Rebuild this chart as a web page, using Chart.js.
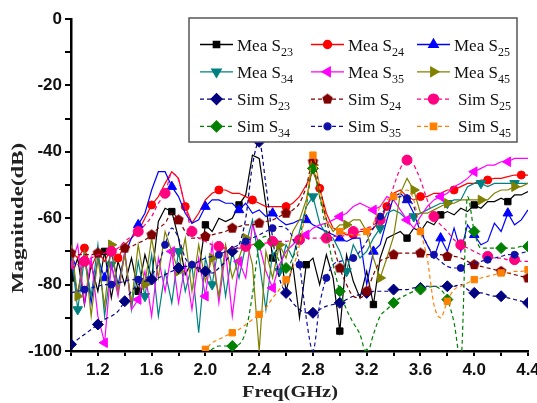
<!DOCTYPE html>
<html>
<head>
<meta charset="utf-8">
<script src="https://cdn.jsdelivr.net/npm/chart.js@4.4.1/dist/chart.umd.min.js"></script>
<style>
  html, body { margin: 0; padding: 0; background: #fff; }
  #wrap { width: 537px; height: 403px; }
</style>
</head>
<body>
<div id="wrap"><canvas id="sChart" width="537" height="403"></canvas></div>
<script>
// --- data (dB), one value per frequency step ---
const freq = [
  1.00,1.05,1.10,1.15,1.20,1.25,1.30,1.35,1.40,1.45,
  1.50,1.55,1.60,1.65,1.70,1.75,1.80,1.85,1.90,1.95,
  2.00,2.05,2.10,2.15,2.20,2.25,2.30,2.35,2.40,2.45,
  2.50,2.55,2.60,2.65,2.70,2.75,2.80,2.85,2.90,2.95,
  3.00,3.05,3.10,3.15,3.20,3.25,3.30,3.35,3.40,3.45,
  3.50,3.55,3.60,3.65,3.70,3.75,3.80,3.85,3.90,3.95,
  4.00,4.05,4.10,4.15,4.20,4.25,4.30,4.35,4.40];

// measured
const meaS23 = [
  -78,-72,-86,-74,-82,-70,-84,-73,-80,-72,
  -82,-71,-78,-61,-57,-58,-66,-77,-73,-76,
  -62,-64,-60,-61,-60,-56,-53,-41,-42,-56,
  -72,-68,-82,-74,-90,-74,-72,-80,-71,-78,
  -94,-71,-79,-84,-76,-86,-72,-66,-65,-64,
  -66,-63,-64,-61,-62,-59,-58,-59,-57,-58,
  -56,-57,-55,-55,-54,-55,-53,-53,-52];
const meaS24 = [
  -70,-72,-69,-75,-70,-73,-69,-72,-68,-66,
  -64,-60,-56,-53.5,-49.5,-46,-48,-56.5,-61.5,-58.5,
  -54.5,-52.5,-51.5,-51.5,-52.5,-52.5,-53.5,-54.5,-55.5,-56.5,
  -56.5,-56.5,-56.5,-55.5,-53.5,-50,-46,-51,-58.5,-63,
  -64,-65,-65,-64,-64,-63,-60.5,-56.5,-52.5,-51.5,
  -53.5,-54.5,-53.5,-53.5,-52.5,-52.5,-51.5,-51.5,-50.5,-49.5,
  -49.5,-48.5,-48.5,-48,-48,-47.5,-47,-47,-47];
const meaS25 = [
  -73,-83,-70,-85.5,-72,-78,-70,-80,-71,-66,
  -62,-58.5,-51.5,-46,-46,-50.5,-53.5,-58.5,-61.5,-60.5,
  -56.5,-54.5,-54.5,-55.5,-55.5,-57.5,-55.5,-58.5,-57.5,-59.5,
  -58.5,-60.5,-62,-61.5,-60.5,-60.5,-62,-63,-64,-65,
  -66,-67,-66,-66,-80,-70,-68,-60.5,-53.5,-52.5,
  -54.5,-58.5,-64,-68,-72,-66,-70,-63,-70,-62,
  -65,-68,-67,-61.5,-64,-58.5,-62,-60.5,-57.5];
const meaS34 = [
  -70,-87.5,-72,-83.5,-68,-89.5,-74,-82,-70,-87.5,
  -73,-83.5,-71,-89.5,-76,-85.5,-70,-82,-74,-94.5,
  -72,-80,-68,-83.5,-70,-78,-68,-60.5,-73,-87.5,
  -70,-76,-68,-72,-64,-56.5,-53.5,-61.5,-65,-66,
  -70,-76,-68,-72,-70,-66,-63,-58.5,-57.5,-58.5,
  -60.5,-59.5,-58.5,-57.5,-56.5,-55.5,-55.5,-54.5,-54.5,-50.5,
  -49.5,-49.5,-50.5,-49.5,-49.5,-49.5,-49.5,-49.5,-49.5];
const meaS35 = [
  -74,-68,-85.5,-72,-89.5,-97.5,-74,-83.5,-70,-87.5,
  -84.5,-76,-89.5,-72,-82,-70,-85.5,-74,-87.5,-72,
  -83.5,-68,-85.5,-70,-89.5,-73,-78,-62,-68,-76,
  -81,-74,-70,-68,-66,-65,-63,-62,-61.5,-60.5,
  -59.5,-58.5,-56.5,-55.5,-56.5,-57.5,-56.5,-53.5,-54.5,-57.5,
  -60.5,-63,-59.5,-56.5,-54.5,-53.5,-52.5,-50.5,-49.5,-48,
  -46,-45,-44,-44,-43,-43,-42,-42,-42];
const meaS45 = [
  -68,-83.5,-70,-89.5,-72,-86.5,-68,-82,-71,-85.5,
  -68,-80,-66,-78,-64,-70,-76,-66,-82,-68,
  -79,-72,-83.5,-68,-78,-72,-66,-74,-100,-70,
  -78,-68,-72,-64,-60.5,-54.5,-44,-53.5,-60.5,-64,
  -62,-62,-60.5,-60.5,-64,-72,-78,-72,-65.5,-52.5,
  -48,-51.5,-58.5,-58.5,-57.5,-56.5,-55.5,-55.5,-54.5,-54.5,
  -54.5,-54.5,-54.5,-52.5,-51.5,-51.5,-50.5,-50.5,-49.5];

// simulated
const simS23 = [
  -98,-96.5,-95,-93.5,-92,-90.5,-89.5,-88,-85,-82,
  -80,-79,-78.5,-78,-77,-76,-75,-74.5,-74.5,-75,
  -76,-76.5,-75,-73,-70,-68,-60,-44,-37,-50,
  -66,-78,-82.5,-85.5,-87.5,-88.5,-88.5,-87.5,-86.5,-86,
  -85.5,-84.5,-83.5,-83,-82.5,-82,-82,-82,-81.5,-81.5,
  -81.5,-81,-81,-80.5,-80.5,-80.5,-80.5,-80.5,-80,-81.5,
  -82.5,-82.5,-83,-83.5,-83.5,-84,-84.5,-85,-85.5];
const simS24 = [
  -70.5,-71,-71,-71,-70.5,-70.5,-70,-69.5,-69,-68.5,
  -67.5,-66.5,-65,-63,-61.5,-58.5,-60.5,-64,-66,-66,
  -65.5,-65,-64.5,-64,-63,-62.5,-62,-62,-61.5,-61,
  -60.5,-59.5,-58.5,-57.5,-55.5,-50.5,-43,-50.5,-60.5,-68,
  -75,-80,-83.5,-84,-82,-77,-73,-72,-71,-70.5,
  -70.5,-70.5,-70.5,-71,-71,-71,-71.5,-71.5,-72,-73,
  -74,-74.5,-75,-75.5,-76,-76.5,-77,-77.5,-78];
const simS25 = [
  -75,-74,-73,-72,-71,-70.5,-70,-69,-67,-65.5,
  -64,-62,-59.5,-55.5,-52.5,-46.5,-48.5,-56.5,-64,-66,
  -67,-68,-68.5,-69,-69,-69,-68.5,-68,-67.5,-67.5,
  -67,-67,-67,-66.5,-66.5,-66,-66,-66,-66,-65.5,
  -65.5,-65,-64,-63.5,-63,-62,-60.5,-56.5,-50.5,-45,
  -42.5,-44,-48.5,-54.5,-59.5,-62,-64,-66.5,-68,-69,
  -70,-71,-71.5,-72,-72,-72.5,-72.5,-73,-73];
const simS34 = [
  null,null,null,null,null,null,null,null,null,null,
  null,null,null,null,null,null,null,null,null,null,
  -101,-99.5,-98.5,-98.5,-98.5,-98,-94,-83,-68,-65.5,
  -68,-73,-75,-72,-66,-56.5,-45,-53.5,-64,-74,
  -82,-87.5,-91.5,-95,-101,-95,-89.5,-87.5,-85.5,-84,
  -83,-82,-81.5,-81,-80.5,-81.5,-84.5,-91.5,-103,-53.5,
  -64,-69,-69,-69,-69,-69,-69,-68.5,-68.5];
const simS35 = [
  -82.5,-82,-81.5,-81,-80.5,-80,-80,-79.5,-79,-78.5,
  -78.5,-78,-77,-74,-68,-63,-66,-72,-74,-73,
  -72,-71.5,-71,-70,-69,-68,-67,-66,-65,-64,
  -63,-62.5,-63,-66,-74,-90,-100,-86,-78,-74,
  -73,-72.5,-72,-70,-67,-63,-59.5,-56.5,-54.5,-53.5,
  -54,-56.5,-63,-68,-71,-73,-74.5,-75,-75,-74,
  -73.5,-73,-72.5,-72,-71.5,-71,-71,-70.5,-70];
const simS45 = [
  null,null,null,null,null,null,null,null,null,null,
  null,null,null,null,null,null,null,null,-103,-101,
  -99.5,-97.5,-96.5,-95.5,-94.5,-93.5,-92,-90.5,-89,-87,
  -84,-81.5,-78.5,-75,-68,-56.5,-41,-50.5,-60.5,-63,
  -64,-64.5,-65,-65,-64,-61.5,-56.5,-54.5,-53.5,-52.5,
  -51.5,-54.5,-64,-72,-86,-90,-85,-81.5,-80.5,-79.5,
  -78.5,-78,-77.5,-77,-76.5,-76.5,-76,-76,-75.5];

const seriesNames = ['Mea S23','Mea S24','Mea S25','Mea S34','Mea S35','Mea S45',
                     'Sim S23','Sim S24','Sim S25','Sim S34','Sim S35','Sim S45'];
const seriesValues = [meaS23, meaS24, meaS25, meaS34, meaS35, meaS45,
                      simS23, simS24, simS25, simS34, simS35, simS45];

const xTickLabels = ['1.2','1.6','2.0','2.4','2.8','3.2','3.6','4.0','4.4'];
const yTickLabels = [0, -20, -40, -60, -80, -100];

seriesValues.forEach((v, i) => {
  if (v.length !== freq.length) console.error(seriesNames[i] + ' has ' + v.length + ' values');
});

// little pentagon marker for Sim S24
function pentagon(color, r) {
  const c = document.createElement('canvas');
  c.width = c.height = 2 * r + 2;
  const g = c.getContext('2d');
  g.fillStyle = color;
  g.beginPath();
  for (let k = 0; k < 5; k++) {
    const a = -Math.PI / 2 + k * 2 * Math.PI / 5;
    g.lineTo(r + 1 + r * Math.cos(a), r + 1 + r * Math.sin(a));
  }
  g.closePath();
  g.fill();
  return c;
}

// look of each curve: colour, marker, marker spacing
const looks = [
  { color: '#000000', shape: 'rect',     rot: 0,   r: 4.5, every: 5, phase: 0 },
  { color: '#ff0000', shape: 'circle',   rot: 0,   r: 4,   every: 5, phase: 2 },
  { color: '#0000ff', shape: 'triangle', rot: 0,   r: 5.5, every: 5, phase: 0 },
  { color: '#008080', shape: 'triangle', rot: 180, r: 5.5, every: 5, phase: 1 },
  { color: '#ff00ff', shape: 'triangle', rot: 270, r: 5.5, every: 5, phase: 0 },
  { color: '#808000', shape: 'triangle', rot: 90,  r: 5.5, every: 5, phase: 1 },
  { color: '#000080', shape: 'rectRot',  rot: 0,   r: 5.5, every: 4, phase: 0, dash: true },
  { color: '#800000', shape: pentagon('#800000', 5.5), rot: 0, r: 5.5, every: 4, phase: 0, dash: true },
  { color: '#ff0080', shape: 'circle',   rot: 0,   r: 5,   every: 4, phase: 2, dash: true },
  { color: '#008000', shape: 'rectRot',  rot: 0,   r: 5.5, every: 4, phase: 0, dash: true },
  { color: '#1010a8', shape: 'circle',   rot: 0,   r: 3.5, every: 4, phase: 2, dash: true },
  { color: '#ff8000', shape: 'rect',     rot: 0,   r: 4.5, every: 4, phase: 0, dash: true }
];

const datasets = seriesNames.map((name, i) => {
  const lk = looks[i];
  return {
    label: name,
    data: freq.map((f, k) => ({ x: f, y: seriesValues[i][k] })),
    borderColor: lk.color,
    backgroundColor: lk.color,
    pointBackgroundColor: lk.color,
    pointBorderColor: lk.color,
    borderWidth: 1.2,
    borderDash: lk.dash ? [4, 3] : [],
    pointStyle: lk.shape,
    pointRotation: lk.rot,
    pointBorderWidth: 1,
    pointRadius: c => (c.dataIndex % lk.every === lk.phase ? lk.r : 0),
    tension: 0,
    cubicInterpolationMode: lk.dash ? 'monotone' : 'default',
    spanGaps: false,
    order: 11 - i
  };
});

// legend box with subscripts, drawn inside the plot
const legendBox = {
  id: 'legendBox',
  afterDatasetsDraw(chart) {
    const ctx = chart.ctx;
    ctx.save();
    ctx.fillStyle = '#fff';
    ctx.fillRect(189, 18, 328, 124);
    ctx.strokeStyle = '#555';
    ctx.lineWidth = 1.5;
    ctx.strokeRect(189, 18, 328, 124);
    const colX = [200, 311, 417];
    chart.data.datasets.forEach((ds, i) => {
      const lk = looks[i];
      const row = Math.floor(i / 3), col = i % 3;
      const cy = 44.5 + row * 27.3;
      const x0 = colX[col], x1 = x0 + 33;
      ctx.strokeStyle = lk.color;
      ctx.lineWidth = 1.3;
      ctx.setLineDash(lk.dash ? [4, 3] : []);
      ctx.beginPath();
      ctx.moveTo(x0, cy);
      ctx.lineTo(x1, cy);
      ctx.stroke();
      ctx.setLineDash([]);
      ctx.fillStyle = lk.color;
      Chart.helpers.drawPoint(ctx, { pointStyle: lk.shape, radius: lk.r, rotation: lk.rot, borderWidth: 1 },
        (x0 + x1) / 2, cy);
      const m = ds.label.match(/^(.*S)(\d+)$/);
      const tx = x1 + 4 + (ds.label.startsWith('Sim') && col === 2 ? 4 : 0);
      ctx.fillStyle = '#111';
      ctx.textAlign = 'left';
      ctx.textBaseline = 'alphabetic';
      ctx.font = '17px "Liberation Serif"';
      ctx.fillText(m[1], tx, cy + 6);
      const w = ctx.measureText(m[1]).width;
      ctx.font = '12px "Liberation Serif"';
      ctx.fillText(m[2], tx + w, cy + 11);
    });
    ctx.restore();
  }
};

// axis titles, a bit stretched like the original figure
const axisTitles = {
  id: 'axisTitles',
  afterDraw(chart) {
    const ctx = chart.ctx;
    ctx.save();
    ctx.fillStyle = '#222';
    ctx.font = 'bold 17px "Liberation Serif"';
    ctx.textAlign = 'center';
    ctx.textBaseline = 'middle';
    ctx.save();
    ctx.translate(290, 393);
    ctx.scale(1.2, 1);
    ctx.fillText('Freq(GHz)', 0, 0);
    ctx.restore();
    ctx.save();
    ctx.translate(19, 218);
    ctx.rotate(-Math.PI / 2);
    ctx.scale(1.35, 1);
    ctx.fillText('Magnitude(dB)', 0, 0);
    ctx.restore();
    ctx.restore();
  }
};

const tickFont = { family: '"Liberation Sans", Arial', size: 17, weight: 'bold' };

new Chart(document.getElementById('sChart').getContext('2d'), {
  type: 'line',
  data: { datasets: datasets },
  options: {
    responsive: false,
    animation: false,
    events: [],
    devicePixelRatio: 1,
    layout: { padding: { top: 19, right: 9, left: 0, bottom: 0 } },
    plugins: { legend: { display: false }, tooltip: { enabled: false } },
    scales: {
      x: {
        type: 'linear',
        min: 1.0,
        max: 4.4,
        grid: { display: true, drawOnChartArea: false, drawTicks: true, tickLength: 5, color: '#000', lineWidth: 2 },
        border: { display: true, color: '#000', width: 2.5 },
        ticks: {
          stepSize: 0.2,
          autoSkip: false,
          maxRotation: 0,
          padding: 4,
          color: '#111',
          font: tickFont,
          callback: v => (xTickLabels.includes(Number(v).toFixed(1)) ? Number(v).toFixed(1) : '')
        },
        afterFit: s => { s.height = 52; s.paddingLeft = 0; s.paddingRight = 0; }
      },
      y: {
        min: -100,
        max: 0,
        grid: { display: true, drawOnChartArea: false, drawTicks: true, tickLength: 6, color: '#000', lineWidth: 2 },
        border: { display: true, color: '#000', width: 2.5 },
        ticks: {
          stepSize: 10,
          autoSkip: false,
          padding: 3,
          color: '#111',
          font: tickFont,
          callback: v => (yTickLabels.includes(Math.round(v)) ? String(Math.round(v)) : '')
        },
        afterFit: s => { s.width = 71; s.paddingTop = 0; s.paddingBottom = 0; }
      }
    }
  },
  plugins: [legendBox, axisTitles]
});
</script>
</body>
</html>
